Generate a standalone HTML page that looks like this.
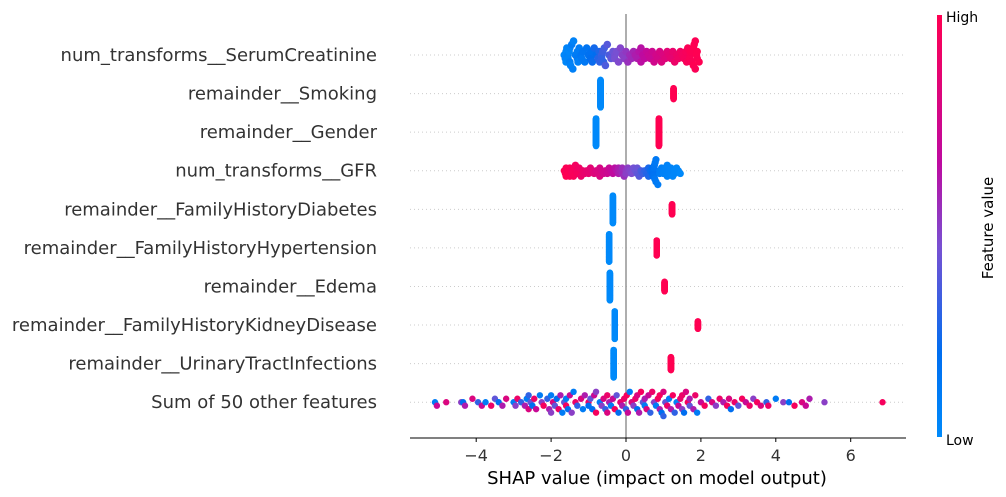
<!DOCTYPE html>
<html><head><meta charset="utf-8"><style>
html,body{margin:0;padding:0;background:#fff;}
svg{display:block;font-family:"DejaVu Sans","Liberation Sans",sans-serif;}
</style></head><body>
<svg id="chart" width="1006" height="497" viewBox="0 0 1006 497">
<defs>
<linearGradient id="cbg" x1="0" y1="1" x2="0" y2="0">
<stop offset="0" stop-color="rgb(0,138,250)"/>
<stop offset="0.2" stop-color="rgb(0,110,240)"/>
<stop offset="0.45" stop-color="rgb(120,80,210)"/>
<stop offset="0.65" stop-color="rgb(190,10,160)"/>
<stop offset="1" stop-color="rgb(255,0,82)"/>
</linearGradient>
</defs>
<g id="grid"></g>
<line x1="626" y1="14" x2="626" y2="438" stroke="#999" stroke-width="1.6"/>
<g id="dots"></g>
<g id="labels"></g>
<line x1="410" y1="438" x2="906" y2="438" stroke="#000" stroke-width="1"/>
<g id="ticks"></g>
<text x="657" y="484" font-size="18" fill="#000" text-anchor="middle">SHAP value (impact on model output)</text>
<rect x="937" y="15" width="5" height="422" fill="url(#cbg)"/>
<text x="946" y="22" font-size="14" fill="#000">High</text>
<text x="946" y="445" font-size="14" fill="#000">Low</text>
<text x="0" y="0" font-size="15" fill="#000" text-anchor="middle" transform="translate(993,228) rotate(-90)">Feature value</text>
</svg>
<script>
const features = ["num_transforms__SerumCreatinine","remainder__Smoking","remainder__Gender","num_transforms__GFR","remainder__FamilyHistoryDiabetes","remainder__FamilyHistoryHypertension","remainder__Edema","remainder__FamilyHistoryKidneyDisease","remainder__UrinaryTractInfections","Sum of 50 other features"];
const xTicks = [-4,-2,0,2,4,6];
// binary features: [rowIndex, shapLow, countLow, shapHigh, countHigh]
const binaryRows = [[1,-0.68,200,1.27,80],[2,-0.8,200,0.88,200],[4,-0.35,200,1.23,75],[5,-0.45,200,0.82,110],[6,-0.43,200,1.03,70],[7,-0.3,200,1.92,55],[8,-0.33,200,1.2,95]];
const serumCreat = [[-1.65,.02],[-1.62,.05],[-1.6,.03],[-1.58,.04],[-1.55,.06],[-1.52,.03],[-1.5,.08],[-1.48,.05],[-1.45,.1],[-1.42,.07],[-1.4,.06],[-1.35,.1],[-1.3,.12],[-1.28,.08],[-1.25,.1],[-1.2,.14],[-1.18,.12],[-1.15,.15],[-1.1,.13],[-1.05,.16],[-1.0,.18],[-0.95,.2],[-0.92,.18],[-0.9,.22],[-0.85,.24],[-0.8,.2],[-0.75,.28],[-0.72,.26],[-0.7,.3],[-0.65,.32],[-0.6,.3],[-0.58,.34],[-0.55,.36],[-0.5,.38],[-0.45,.36],[-0.4,.4],[-0.35,.42],[-0.3,.44],[-0.25,.45],[-0.2,.47],[-0.15,.48],[-0.1,.5],[-0.05,.5],[0,.52],[0.05,.54],[0.1,.55],[0.15,.56],[0.2,.58],[0.25,.6],[0.3,.6],[0.35,.62],[0.4,.64],[0.45,.65],[0.5,.66],[0.55,.68],[0.6,.7],[0.65,.7],[0.7,.72],[0.75,.74],[0.8,.75],[0.85,.76],[0.9,.78],[0.95,.8],[1.0,.8],[1.05,.82],[1.1,.84],[1.15,.85],[1.2,.86],[1.25,.88],[1.3,.9],[1.35,.9],[1.4,.92],[1.45,.93],[1.5,.94],[1.55,.95],[1.6,.96],[1.62,.97],[1.65,.98],[1.7,.97],[1.72,.99],[1.75,.98],[1.8,.99],[1.82,1],[1.85,.98],[1.88,1],[1.9,.99],[1.95,1],[-1.55,.04],[-1.5,.05],[-1.3,.1],[-0.65,.3],[-0.62,.33],[1.7,.98],[1.8,1],[1.9,1],[1.85,.99],[-1.6,.02],[0.4,.63],[-0.3,.45]];
const gfr = [[-1.65,1],[-1.62,.98],[-1.6,.99],[-1.55,.97],[-1.5,.98],[-1.45,.95],[-1.4,.96],[-1.35,.94],[-1.3,.93],[-1.25,.92],[-1.2,.9],[-1.15,.9],[-1.1,.88],[-1.05,.87],[-1.0,.86],[-0.95,.85],[-0.9,.84],[-0.85,.82],[-0.8,.8],[-0.75,.8],[-0.7,.78],[-0.65,.76],[-0.6,.75],[-0.55,.74],[-0.5,.72],[-0.45,.7],[-0.4,.68],[-0.35,.66],[-0.3,.64],[-0.25,.62],[-0.2,.6],[-0.15,.58],[-0.1,.56],[-0.05,.54],[0,.52],[0.05,.5],[0.1,.48],[0.15,.46],[0.2,.44],[0.25,.42],[0.3,.4],[0.35,.38],[0.4,.35],[0.45,.33],[0.5,.3],[0.55,.28],[0.6,.25],[0.65,.22],[0.7,.2],[0.72,.18],[0.75,.15],[0.75,.16],[0.76,.14],[0.78,.12],[0.8,.12],[0.85,.1],[0.9,.1],[0.95,.08],[1.0,.07],[1.05,.06],[1.1,.05],[1.15,.05],[1.2,.04],[1.25,.03],[1.3,.03],[1.35,.02],[1.4,.02],[1.45,.01],[-1.6,1],[-1.5,.99],[-1.4,.97],[-1.3,.95],[-0.7,.8],[-0.2,.6],[0.3,.42],[0.7,.2],[0.74,.16],[0.8,.12],[1.0,.06],[1.1,.05],[1.2,.04],[1.3,.03],[-0.1,.55],[0.0,.5],[-1.55,.99],[0.6,.26],[-1.45,.96],[0.9,.09],[0.74,.17],[0.77,.13]];
const otherSum = [[-5.1,.1],[-5.05,.7],[-4.8,.8],[-4.4,.5],[-4.35,.2],[-4.3,.6],[-4.1,.8],[-3.95,.3],[-3.85,.7],[-3.75,.1],[-3.6,.9],[-3.5,.4],[-3.4,.2],[-3.3,.6],[-3.2,.8],[-3.0,.1],[-2.95,.5],[-2.9,.9],[-2.8,.3],[-2.7,.6],[-2.65,.1],[-2.6,.8],[-2.55,.4],[-2.5,.2],[-2.45,.9],[-2.4,.7],[-2.3,.1],[-2.25,.5],[-2.2,.95],[-2.1,.3],[-2.05,.6],[-2.0,.1],[-1.95,.8],[-1.9,.4],[-1.85,.2],[-1.8,.9],[-1.75,.6],[-1.7,.1],[-1.65,.4],[-1.6,.95],[-1.55,.2],[-1.5,.7],[-1.45,.5],[-1.4,.1],[-1.35,.9],[-1.3,.3],[-1.2,.8],[-1.15,.1],[-1.1,.6],[-1.0,.9],[-0.95,.4],[-0.9,.2],[-0.85,.7],[-0.8,.95],[-0.7,.1],[-0.65,.5],[-0.6,.8],[-0.55,.3],[-0.5,.9],[-0.45,.6],[-0.4,.1],[-0.35,.7],[-0.3,.95],[-0.25,.4],[-0.2,.2],[-0.15,.85],[-0.1,.6],[-0.05,.9],[0,.3],[0.02,.95],[0.05,.7],[0.1,.1],[0.15,.8],[0.2,.5],[0.25,.9],[0.3,.2],[0.35,.6],[0.4,.95],[0.45,.4],[0.5,.1],[0.55,.8],[0.6,.7],[0.65,.3],[0.7,.9],[0.75,.5],[0.8,.1],[0.85,.95],[0.9,.6],[0.95,.2],[1.0,.8],[1.05,.4],[1.1,.9],[1.15,.1],[1.2,.6],[1.25,.95],[1.3,.3],[1.35,.05],[1.4,.7],[1.45,.9],[1.5,.5],[1.55,.2],[1.6,.8],[1.65,.95],[1.7,.4],[1.8,.6],[1.85,.9],[1.9,.1],[2.0,.7],[2.1,.95],[2.2,.3],[2.3,.8],[2.4,.5],[2.5,.9],[2.6,.6],[2.7,.95],[2.75,.8],[2.8,.2],[2.9,.9],[3.0,.4],[3.1,.95],[3.2,.7],[3.3,.9],[3.4,.5],[3.5,.95],[3.6,.8],[3.75,.3],[3.8,.9],[4.0,.1],[4.2,.5],[4.35,.2],[4.5,.95],[4.7,.8],[4.8,.7],[4.9,.6],[5.3,.5],[6.85,.95],[-2.0,.5],[-1.0,.2],[-0.5,.8],[0.5,.6],[1.0,.3],[1.5,.9],[-1.6,.1],[-0.8,.5],[0.3,.8],[0.9,.95],[1.7,.6],[-2.6,.3]];

const X0 = 626, PXU = 37.45;
const rowY = i => 55 + i * 38.58;
const xs = v => X0 + v * PXU;
function col(t){
  const st=[[0,[0,138,250]],[0.2,[0,110,240]],[0.45,[120,80,210]],[0.65,[190,10,160]],[1,[255,0,82]]];
  for(let k=1;k<st.length;k++){ if(t<=st[k][0]){ const a=st[k-1],b=st[k],f=(t-a[0])/(b[0]-a[0]);
    return 'rgb('+a[1].map((c,j)=>Math.round(c+(b[1][j]-c)*f)).join(',')+')'; } }
  return 'rgb(255,0,82)';
}
const NS='http://www.w3.org/2000/svg';
const gGrid=document.getElementById('grid'), gDots=document.getElementById('dots'), gLab=document.getElementById('labels'), gT=document.getElementById('ticks');

features.forEach((f,i)=>{
  const l=document.createElementNS(NS,'line');
  l.setAttribute('x1',410);l.setAttribute('x2',905);l.setAttribute('y1',rowY(i));l.setAttribute('y2',rowY(i));
  l.setAttribute('stroke','#ccc');l.setAttribute('stroke-dasharray','1,3');l.setAttribute('stroke-width','1');
  
  
  gGrid.appendChild(l);
  const t=document.createElementNS(NS,'text');
  t.setAttribute('x',377);t.setAttribute('y',rowY(i)+6);t.setAttribute('text-anchor','end');
  t.setAttribute('font-size','18');t.setAttribute('fill','#333');t.textContent=f;
  
  
  gLab.appendChild(t);
});
xTicks.forEach(v=>{
  const l=document.createElementNS(NS,'line');
  l.setAttribute('x1',xs(v));l.setAttribute('x2',xs(v));l.setAttribute('y1',438);l.setAttribute('y2',442);l.setAttribute('stroke','#000');
  
  
  gT.appendChild(l);
  const t=document.createElementNS(NS,'text');
  t.setAttribute('x',xs(v));t.setAttribute('y',461);t.setAttribute('text-anchor','middle');
  t.setAttribute('font-size','16');t.setAttribute('fill','#333');t.textContent=(v<0?'\u2212':'')+Math.abs(v);
  
  
  gT.appendChild(t);
});

function swarm(row, pts, nbins, rad){
  const vals=pts.map(p=>p[0]);
  const mn=Math.min(...vals), mx=Math.max(...vals), rng=(mx-mn)||1;
  const idx=pts.map((p,k)=>k).sort((a,b)=>pts[a][0]-pts[b][0]);
  const ys=new Array(pts.length).fill(0);
  const bins={};
  idx.forEach(k=>{
    const q=Math.round(nbins*(pts[k][0]-mn)/rng);
    const layer=bins[q]||0;
    ys[k]=Math.ceil(layer/2)*((layer%2)*2-1);
    bins[q]=layer+1;
  });
  const m=Math.max(1,...ys.map(Math.abs));
  const sc=0.36*38.58/m;
  idx.forEach(k=>{
    const c=document.createElementNS(NS,'circle');
    c.setAttribute('cx',xs(pts[k][0]).toFixed(2));
    c.setAttribute('cy',(rowY(row)+ys[k]*sc).toFixed(2));
    c.setAttribute('r',rad);c.setAttribute('fill',col(pts[k][1]));
    
    
    gDots.appendChild(c);
  });
}
swarm(0, serumCreat, 20, 3.8);
swarm(3, gfr, 24, 3.6);
swarm(9, otherSum, 40, 3.2);
binaryRows.forEach(b=>{
  const pts=[];
  for(let k=0;k<b[2];k++) pts.push([b[1],0]);
  for(let k=0;k<b[4];k++) pts.push([b[3],1]);
  swarm(b[0], pts, 100, 3.2);
});
</script>
</body></html>
